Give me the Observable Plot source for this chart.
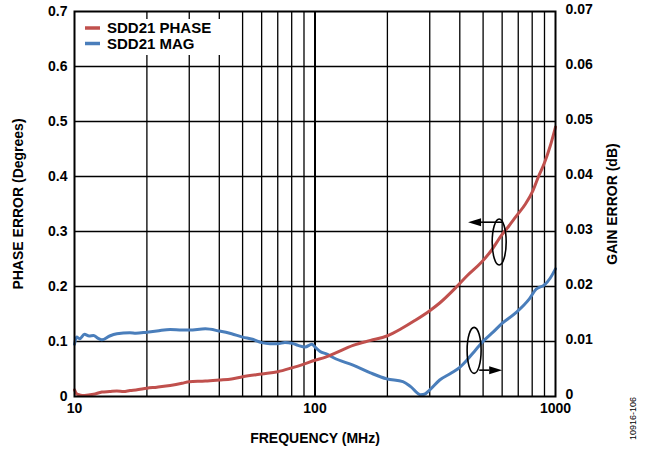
<!DOCTYPE html>
<html>
<head>
<meta charset="utf-8">
<script src="https://cdn.jsdelivr.net/npm/d3@7"></script>
<script src="https://cdn.jsdelivr.net/npm/@observablehq/plot@0.6"></script>
<style>
  html, body { margin: 0; padding: 0; background: #fff; }
</style>
</head>
<body>
<div id="chart"></div>
<script>
// Frequency (MHz) and phase error (degrees) for SDD21 PHASE
const phaseFreq = [10, 10.2, 10.5, 11, 12, 13, 14, 15, 16, 17, 18, 20, 22, 25, 28, 30, 35, 40, 45, 50, 60, 70, 80, 90, 100, 110, 120, 144, 170, 199, 230, 260, 300, 330, 387, 430, 492, 540, 596, 640, 687, 750, 805, 850, 900, 950, 1000];
const phaseDeg  = [0.012, 0.005, 0.003, 0.002, 0.004, 0.008, 0.009, 0.010, 0.009, 0.011, 0.012, 0.015, 0.017, 0.020, 0.024, 0.027, 0.028, 0.030, 0.032, 0.036, 0.041, 0.045, 0.052, 0.059, 0.066, 0.071, 0.078, 0.093, 0.102, 0.110, 0.124, 0.138, 0.156, 0.170, 0.199, 0.220, 0.244, 0.265, 0.293, 0.310, 0.328, 0.350, 0.374, 0.400, 0.425, 0.455, 0.490];

// Frequency (MHz) and gain error (dB) for SDD21 MAG
const magFreq = [10, 10.2, 10.5, 11, 11.5, 12, 12.5, 13, 14, 15, 17, 18, 20, 22, 25, 28, 30, 35, 40, 45, 50, 55, 60, 65, 70, 75, 80, 85, 91, 97, 100, 105, 112, 120, 144, 170, 199, 232, 250, 275, 285, 300, 330, 370, 400, 426, 460, 499, 550, 596, 687, 780, 830, 900, 950, 1000];
const magDb   = [0.0095, 0.0108, 0.0105, 0.0113, 0.0110, 0.0111, 0.0106, 0.0103, 0.0110, 0.0114, 0.0116, 0.0115, 0.0117, 0.0119, 0.0122, 0.0121, 0.0121, 0.0123, 0.0119, 0.0114, 0.0108, 0.0104, 0.0098, 0.0096, 0.0096, 0.0098, 0.0097, 0.0093, 0.0090, 0.0095, 0.0090, 0.0082, 0.0077, 0.0070, 0.0057, 0.0043, 0.0032, 0.0027, 0.0018, 0.0003, 0.0004, 0.0012, 0.0030, 0.0043, 0.0053, 0.0065, 0.0082, 0.0100, 0.0117, 0.0132, 0.0153, 0.0178, 0.0195, 0.0203, 0.0215, 0.0232];

// Axis ticks and labels
const xTicks = [10, 100, 1000];
const xTickLabels = ["10", "100", "1000"];
const leftTicks = [0, 0.1, 0.2, 0.3, 0.4, 0.5, 0.6, 0.7];
const leftTickLabels = ["0", "0.1", "0.2", "0.3", "0.4", "0.5", "0.6", "0.7"];
const rightTickLabels = ["0", "0.01", "0.02", "0.03", "0.04", "0.05", "0.06", "0.07"];
const xGrid = [20, 30, 40, 50, 60, 70, 80, 90, 200, 300, 400, 500, 600, 700, 800, 900];
const xGridMajor = [100];
const yGrid = [0.1, 0.2, 0.3, 0.4, 0.5, 0.6];

// Series names
const seriesNames = ["SDD21 PHASE", "SDD21 MAG"];
const seriesColors = ["#c0504d", "#4a7ebb"];

// Annotation anchors (data units: frequency MHz, phase degrees)
const ellipseFreq = [586, 461];
const ellipseVal = [0.28, 0.083];
const arrowFrom = [603, 484];
const arrowTo = [435, 603];
const arrowVal = [0.316, 0.047];

const phaseData = phaseFreq.map((f, i) => ({f, v: phaseDeg[i]}));
const magData = magFreq.map((f, i) => ({f, db: magDb[i]}));
const ellipses = ellipseFreq.map((f, i) => ({f, v: ellipseVal[i]}));
const arrows = arrowFrom.map((f1, i) => ({f1, f2: arrowTo[i], v: arrowVal[i]}));

function annotations(index, scales, values, dimensions) {
  const g = d3.create("svg:g");
  for (const e of ellipses) {
    g.append("ellipse")
      .attr("cx", scales.x(e.f)).attr("cy", scales.y(e.v))
      .attr("rx", 7).attr("ry", 23)
      .attr("fill", "none").attr("stroke", "black").attr("stroke-width", 1.6);
  }
  for (const a of arrows) {
    const x1 = scales.x(a.f1), x2 = scales.x(a.f2), y = scales.y(a.v);
    const dir = Math.sign(x2 - x1);
    const hl = 13, hw = 4;
    g.append("line")
      .attr("x1", x1).attr("x2", x2 - dir * hl).attr("y1", y).attr("y2", y)
      .attr("stroke", "black").attr("stroke-width", 1.6);
    g.append("path")
      .attr("d", `M${x2},${y}L${x2 - dir * hl},${y - hw}L${x2 - dir * hl},${y + hw}Z`)
      .attr("fill", "black");
  }
  return g.node();
}

function legend(index, scales, values, dimensions) {
  const g = d3.create("svg:g");
  const x0 = dimensions.marginLeft, y0 = dimensions.marginTop;
  g.append("rect").attr("x", x0 + 2).attr("y", y0 + 8).attr("width", 150).attr("height", 36).attr("fill", "white");
  seriesNames.forEach((name, i) => {
    const y = y0 + 17 + i * 15.5;
    g.append("line").attr("x1", x0 + 11).attr("x2", x0 + 26).attr("y1", y).attr("y2", y)
      .attr("stroke", seriesColors[i]).attr("stroke-width", 3.5);
    g.append("text").attr("x", x0 + 33).attr("y", y).attr("dy", "0.36em")
      .attr("text-anchor", "start")
      .attr("font-size", 15).attr("font-weight", "bold").attr("fill", "black").text(name);
  });
  return g.node();
}

const chart = Plot.plot({
  width: 648,
  height: 451,
  marginLeft: 74,
  marginRight: 93,
  marginTop: 11,
  marginBottom: 55,
  x: {type: "log", domain: [10, 1000]},
  y: {domain: [0, 0.7]},
  style: {fontFamily: "'Liberation Sans', Arial, sans-serif", fontSize: "14px", fontWeight: "bold", color: "black", background: "white"},
  marks: [
    Plot.ruleX(xGrid, {stroke: "black", strokeWidth: 1.3, strokeOpacity: 1}),
    Plot.ruleX(xGridMajor, {stroke: "black", strokeWidth: 2, strokeOpacity: 1}),
    Plot.ruleY(yGrid, {stroke: "black", strokeWidth: 1.3, strokeOpacity: 1}),
    legend,
    Plot.line(magData, {x: "f", y: d => d.db * 10, stroke: seriesColors[1], strokeWidth: 3, curve: "monotone-x"}),
    Plot.line(phaseData, {x: "f", y: "v", stroke: seriesColors[0], strokeWidth: 3, curve: "monotone-x"}),
    Plot.frame({stroke: "black", strokeWidth: 2}),
    annotations,
    Plot.axisX({ticks: xTicks, tickSize: 0, tickPadding: 7, tickFormat: d => xTickLabels[xTicks.indexOf(d)], label: null}),
    Plot.axisY({anchor: "left", ticks: leftTicks, tickSize: 0, tickPadding: 7, tickFormat: d => leftTickLabels[leftTicks.indexOf(d)], label: null}),
    Plot.axisY({anchor: "right", ticks: leftTicks, tickSize: 0, tickPadding: 10, dy: -2, tickFormat: d => rightTickLabels[leftTicks.indexOf(d)], label: null}),
    Plot.text(["PHASE ERROR (Degrees)"], {frameAnchor: "left", rotate: -90, dx: -56, textAnchor: "middle", lineAnchor: "middle", fontSize: 14, fontWeight: "bold"}),
    Plot.text(["GAIN ERROR (dB)"], {frameAnchor: "right", rotate: -90, dx: 57, textAnchor: "middle", lineAnchor: "middle", fontSize: 14, fontWeight: "bold"}),
    Plot.text(["FREQUENCY (MHz)"], {frameAnchor: "bottom", dy: 42, textAnchor: "middle", lineAnchor: "middle", fontSize: 14, fontWeight: "bold"}),
    Plot.text(["10916-106"], {frameAnchor: "bottom-right", rotate: -90, dx: 78, dy: 22, textAnchor: "middle", lineAnchor: "middle", fontSize: 9, fontWeight: "normal"})
  ]
});
document.getElementById("chart").appendChild(chart);
</script>
</body>
</html>
